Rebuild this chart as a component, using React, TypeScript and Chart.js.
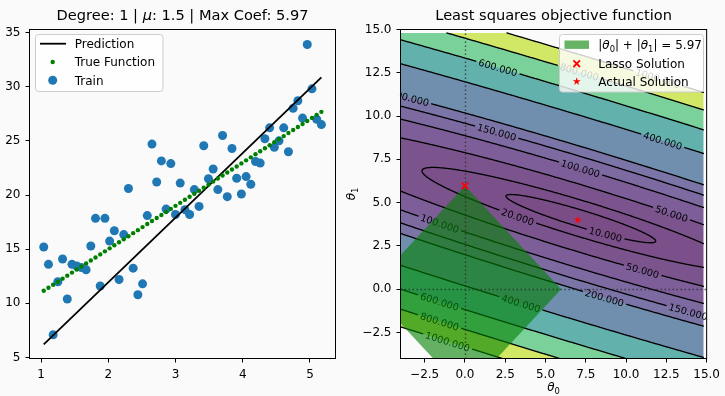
import React, { useEffect, useRef } from "react";
import { Chart, registerables } from "chart.js";

Chart.register(...registerables);

const FAMILY = '"DejaVu Sans", "Liberation Sans", sans-serif';
const PAGE_BG = "#fafafa";

// ---------------- left panel data ----------------
const sampleX = [
  1.04, 1.11, 1.18, 1.25, 1.32, 1.39, 1.46, 1.53, 1.6, 1.67,
  1.74, 1.81, 1.88, 1.95, 2.02, 2.09, 2.16, 2.23, 2.3, 2.37,
  2.44, 2.51, 2.58, 2.65, 2.72, 2.79, 2.86, 2.93, 3.0, 3.07,
  3.14, 3.21, 3.28, 3.35, 3.42, 3.49, 3.56, 3.63, 3.7, 3.77,
  3.84, 3.91, 3.98, 4.05, 4.12, 4.19, 4.26, 4.33, 4.4, 4.47,
  4.54, 4.61, 4.68, 4.75, 4.82, 4.89, 4.96, 5.03, 5.1, 5.17,
];
const trainY = [
  15.2, 13.6, 7.1, 12.0, 14.1, 10.4, 13.6, 13.45, 13.3, 13.1,
  15.3, 17.85, 11.6, 17.85, 15.75, 16.7, 12.2, 16.35, 20.6, 13.25,
  10.8, 11.8, 18.1, 24.7, 21.2, 23.15, 18.7, 22.9, 18.2, 21.1,
  18.65, 18.2, 20.5, 18.95, 24.55, 21.5, 22.4, 20.5, 25.5, 19.85,
  24.3, 21.55, 20.1, 21.7, 21.0, 23.1, 22.95, 25.2, 26.2, 24.4,
  25.0, 26.2, 24.0, 28.0, 28.7, 27.1, 33.9, 29.8, 27.0, 26.5,
];
const trueY = [
  11.16, 11.44, 11.72, 12.0, 12.28, 12.56, 12.84, 13.12, 13.4, 13.68,
  13.96, 14.24, 14.52, 14.8, 15.08, 15.36, 15.64, 15.92, 16.2, 16.48,
  16.76, 17.04, 17.32, 17.6, 17.88, 18.16, 18.44, 18.72, 19.0, 19.28,
  19.56, 19.84, 20.12, 20.4, 20.68, 20.96, 21.24, 21.52, 21.8, 22.08,
  22.36, 22.64, 22.92, 23.2, 23.48, 23.76, 24.04, 24.32, 24.6, 24.88,
  25.16, 25.44, 25.72, 26.0, 26.28, 26.56, 26.84, 27.12, 27.4, 27.68,
];
const predictionX = [1.04, 5.17];
const predictionY = [6.21, 30.86];
const leftXTicks = [1, 2, 3, 4, 5];
const leftYTicks = [5, 10, 15, 20, 25, 30, 35];
const leftXRange = [0.828, 5.38];
const leftYRange = [4.91, 35.28];
const leftLegendLabels = ["Prediction", "True Function", "Train"];

// ---------------- right panel data ----------------
const lassoSolution = [0, 5.97];
const actualSolution = [7.0, 4.0];
const constraintT0 = [5.97, 0, -5.97, 0, 5.97];
const constraintT1 = [0, 5.97, 0, -5.97, 0];
const contourLevels = [10, 20, 50, 100, 150, 200, 400, 600, 800, 1000];
const fillLevels = [0, 10, 20, 50, 100, 150, 200, 400, 600, 800, 1000];
const gridRange = [-4, 14.8];
const rightRange = [-4, 15];
const rightTicks = [-2.5, 0, 2.5, 5, 7.5, 10, 12.5, 15];
const labelLevel = [600, 800, 1000, 200, 150, 400, 100, 50, 20, 10, 100, 50, 200, 150, 400, 600, 800, 1000];
const labelT0 = [2.07, 7.11, 12.05, -3.5, 2.07, 12.26, 7.22, 12.88, 3.3, 8.76, -1.53, 11.02, 8.65, 13.9, 3.51, -1.59, -1.59, -1.08];
const labelT1 = [12.89, 12.62, 12.33, 10.88, 9.35, 8.58, 7.05, 4.46, 4.21, 3.31, 3.83, 1.11, -0.52, -1.19, -0.71, -0.71, -1.86, -3.01];
const rightLegendLabels = ["Lasso Solution", "Actual Solution"];

// ---------------- helpers ----------------
const meanOf = (arr: number[]) => arr.reduce((s, v) => s + v, 0) / arr.length;
const moments = {
  x: meanOf(sampleX),
  xx: meanOf(sampleX.map((v) => v * v)),
  y: meanOf(trainY),
  xy: meanOf(sampleX.map((v, i) => v * trainY[i])),
  yy: meanOf(trainY.map((v) => v * v)),
};
// mean squared error of the training data for coefficients (t0, t1)
function objective(t0: number, t1: number) {
  const m = moments;
  return m.yy - 2 * t0 * m.y - 2 * t1 * m.xy + t0 * t0 + 2 * t0 * t1 * m.x + t1 * t1 * m.xx;
}

const VIRIDIS = ["#440154", "#482475", "#414487", "#355f8d", "#2a788e", "#21918c", "#22a884", "#44bf70", "#7ad151", "#bddf26", "#fde725"];
const hexRgb = (h: string) => [parseInt(h.slice(1, 3), 16), parseInt(h.slice(3, 5), 16), parseInt(h.slice(5, 7), 16)];
function viridis(t: number) {
  const p = Math.max(0, Math.min(1, t)) * 10;
  const i = Math.min(9, Math.floor(p));
  const f = p - i;
  const a = hexRgb(VIRIDIS[i]);
  const b = hexRgb(VIRIDIS[i + 1]);
  return a.map((v, k) => v + (b[k] - v) * f);
}
const FILL_ALPHA = 0.7;
const lo = fillLevels[0];
const hi = fillLevels[fillLevels.length - 1];
const bandColors = fillLevels.slice(0, -1).map((l, i) => viridis(((l + fillLevels[i + 1]) / 2 - lo) / (hi - lo)));
function bandIndex(J: number) {
  if (J < lo || J >= hi) return -1;
  for (let i = 0; i < fillLevels.length - 1; i++) if (J < fillLevels[i + 1]) return i;
  return -1;
}

type Seg = { t: string; it?: boolean; sub?: boolean };
function drawRich(ctx: any, segs: Seg[], x: number, y: number, size: number, align: string, color = "#000") {
  const fontFor = (s: Seg) => `${s.it ? "italic " : ""}${s.sub ? size * 0.7 : size}px ${FAMILY}`;
  const widths = segs.map((s) => {
    ctx.font = fontFor(s);
    return ctx.measureText(s.t).width;
  });
  const total = widths.reduce((a, b) => a + b, 0);
  let cx = align === "center" ? x - total / 2 : x;
  ctx.fillStyle = color;
  ctx.textAlign = "left";
  ctx.textBaseline = "alphabetic";
  segs.forEach((s, i) => {
    ctx.font = fontFor(s);
    ctx.fillText(s.t, cx, s.sub ? y + size * 0.22 : y);
    cx += widths[i];
  });
}

function legendFrame(ctx: any, x: number, y: number, w: number, h: number) {
  ctx.beginPath();
  if (ctx.roundRect) ctx.roundRect(x, y, w, h, 3);
  else ctx.rect(x, y, w, h);
  ctx.fillStyle = "rgba(255,255,255,0.8)";
  ctx.fill();
  ctx.strokeStyle = "#cccccc";
  ctx.lineWidth = 1;
  ctx.stroke();
}

function drawStarPath(ctx: any, cx: number, cy: number, r: number) {
  ctx.beginPath();
  for (let k = 0; k < 10; k++) {
    const rr = k % 2 === 0 ? r : r * 0.382;
    const a = -Math.PI / 2 + (k * Math.PI) / 5;
    const px = cx + rr * Math.cos(a);
    const py = cy + rr * Math.sin(a);
    if (k === 0) ctx.moveTo(px, py);
    else ctx.lineTo(px, py);
  }
  ctx.closePath();
}
function makeStar(r: number, color: string) {
  const c = document.createElement("canvas");
  const s = Math.ceil(r * 2 + 2);
  c.width = s;
  c.height = s;
  const g = c.getContext("2d")!;
  drawStarPath(g, s / 2, s / 2, r);
  g.fillStyle = color;
  g.fill();
  return c;
}

const CASES: number[][] = [[], [3, 0], [0, 1], [3, 1], [1, 2], [3, 0, 1, 2], [0, 2], [3, 2], [2, 3], [0, 2], [0, 1, 2, 3], [1, 2], [1, 3], [0, 1], [3, 0], []];
function edgePt(e: number, i: number, j: number, v0: number, v1: number, v2: number, v3: number, L: number) {
  if (e === 0) return [i + (L - v0) / (v1 - v0), j];
  if (e === 1) return [i + 1, j + (L - v1) / (v2 - v1)];
  if (e === 2) return [i + (L - v3) / (v2 - v3), j + 1];
  return [i, j + (L - v0) / (v3 - v0)];
}

function buildContours(chart: any) {
  const xs = chart.scales.x;
  const ys = chart.scales.y;
  const step = 0.05;
  const g0 = gridRange[0];
  const N = Math.round((gridRange[1] - g0) / step) + 1;
  const V = new Float64Array(N * N);
  for (let j = 0; j < N; j++) for (let i = 0; i < N; i++) V[j * N + i] = objective(g0 + i * step, g0 + j * step);
  const toPx = (gi: number) => xs.getPixelForValue(g0 + gi * step);
  const toPy = (gj: number) => ys.getPixelForValue(g0 + gj * step);
  const out = new Map<number, number[]>();
  for (const L of contourLevels) {
    const segs: number[] = [];
    for (let j = 0; j < N - 1; j++) {
      for (let i = 0; i < N - 1; i++) {
        const v0 = V[j * N + i];
        const v1 = V[j * N + i + 1];
        const v2 = V[(j + 1) * N + i + 1];
        const v3 = V[(j + 1) * N + i];
        const c = (v0 > L ? 1 : 0) | (v1 > L ? 2 : 0) | (v2 > L ? 4 : 0) | (v3 > L ? 8 : 0);
        if (c === 0 || c === 15) continue;
        const e = CASES[c];
        for (let k = 0; k < e.length; k += 2) {
          const p = edgePt(e[k], i, j, v0, v1, v2, v3, L);
          const q = edgePt(e[k + 1], i, j, v0, v1, v2, v3, L);
          segs.push(toPx(p[0]), toPy(p[1]), toPx(q[0]), toPy(q[1]));
        }
      }
    }
    out.set(L, segs);
  }
  return out;
}

const LABEL_SIZE = 9.7;

const contourPlugin = {
  id: "contourPlugin",
  beforeDatasetsDraw(chart: any) {
    const { ctx, chartArea: a } = chart;
    const xs = chart.scales.x;
    const ys = chart.scales.y;
    // ---- filled bands ----
    const x0 = Math.ceil(a.left);
    const x1 = Math.floor(a.right);
    const y0 = Math.ceil(a.top);
    const y1 = Math.floor(a.bottom);
    const w = x1 - x0;
    const h = y1 - y0;
    const off = document.createElement("canvas");
    off.width = w;
    off.height = h;
    const octx = off.getContext("2d")!;
    const img = octx.createImageData(w, h);
    const sub = [0.25, 0.75];
    for (let py = 0; py < h; py++) {
      for (let px = 0; px < w; px++) {
        let r = 0, g = 0, b = 0, n = 0;
        for (const sy of sub) {
          const t1 = ys.getValueForPixel(y0 + py + sy);
          for (const sx of sub) {
            const t0 = xs.getValueForPixel(x0 + px + sx);
            if (t0 < gridRange[0] || t0 > gridRange[1] || t1 < gridRange[0] || t1 > gridRange[1]) continue;
            const bi = bandIndex(objective(t0, t1));
            if (bi < 0) continue;
            const c = bandColors[bi];
            r += c[0]; g += c[1]; b += c[2]; n++;
          }
        }
        if (n > 0) {
          const idx = (py * w + px) * 4;
          img.data[idx] = r / n;
          img.data[idx + 1] = g / n;
          img.data[idx + 2] = b / n;
          img.data[idx + 3] = Math.round(255 * FILL_ALPHA * (n / 4));
        }
      }
    }
    octx.putImageData(img, 0, 0);
    ctx.save();
    ctx.drawImage(off, x0, y0);

    // ---- contour lines + labels ----
    const lines = buildContours(chart);
    ctx.font = `${LABEL_SIZE}px ${FAMILY}`;
    const labels: any[] = [];
    labelLevel.forEach((L, k) => {
      const segs = lines.get(L) || [];
      const ax = xs.getPixelForValue(labelT0[k]);
      const ay = ys.getPixelForValue(labelT1[k]);
      let best = -1, bestD = Infinity;
      for (let s = 0; s < segs.length; s += 4) {
        const mx = (segs[s] + segs[s + 2]) / 2;
        const my = (segs[s + 1] + segs[s + 3]) / 2;
        const d = (mx - ax) ** 2 + (my - ay) ** 2;
        if (d < bestD) { bestD = d; best = s; }
      }
      if (best < 0) return;
      const px = (segs[best] + segs[best + 2]) / 2;
      const py = (segs[best + 1] + segs[best + 3]) / 2;
      const rx = segs[best + 2] - segs[best];
      const ry = segs[best + 3] - segs[best + 1];
      let sx = 0, sy = 0;
      for (let s = 0; s < segs.length; s += 4) {
        const mx = (segs[s] + segs[s + 2]) / 2;
        const my = (segs[s + 1] + segs[s + 3]) / 2;
        if ((mx - px) ** 2 + (my - py) ** 2 > 100) continue;
        let dx = segs[s + 2] - segs[s];
        let dy = segs[s + 3] - segs[s + 1];
        if (dx * rx + dy * ry < 0) { dx = -dx; dy = -dy; }
        sx += dx; sy += dy;
      }
      let ang = Math.atan2(sy, sx);
      if (ang > Math.PI / 2) ang -= Math.PI;
      if (ang < -Math.PI / 2) ang += Math.PI;
      const text = L.toFixed(3);
      const tw = ctx.measureText(text).width;
      labels.push({ px, py, ang, text, tw });
    });

    ctx.beginPath();
    ctx.rect(a.left, a.top, a.right - a.left, a.bottom - a.top);
    labels.forEach((lb) => {
      const hw = lb.tw / 2 + 2.5;
      const hh = LABEL_SIZE * 0.6;
      const c = Math.cos(lb.ang), s = Math.sin(lb.ang);
      const pts = [[-hw, -hh], [hw, -hh], [hw, hh], [-hw, hh]].map(([u, v]) => [lb.px + u * c - v * s, lb.py + u * s + v * c]);
      ctx.moveTo(pts[0][0], pts[0][1]);
      for (let i = 1; i < 4; i++) ctx.lineTo(pts[i][0], pts[i][1]);
      ctx.closePath();
    });
    ctx.clip("evenodd");
    ctx.strokeStyle = "#000";
    ctx.lineWidth = 1.3;
    ctx.lineCap = "round";
    ctx.beginPath();
    lines.forEach((segs) => {
      for (let s = 0; s < segs.length; s += 4) {
        ctx.moveTo(segs[s], segs[s + 1]);
        ctx.lineTo(segs[s + 2], segs[s + 3]);
      }
    });
    ctx.stroke();
    ctx.restore();

    ctx.save();
    ctx.beginPath();
    ctx.rect(a.left, a.top, a.right - a.left, a.bottom - a.top);
    ctx.clip();
    ctx.fillStyle = "#000";
    ctx.font = `${LABEL_SIZE}px ${FAMILY}`;
    ctx.textAlign = "center";
    ctx.textBaseline = "alphabetic";
    labels.forEach((lb) => {
      ctx.save();
      ctx.translate(lb.px, lb.py);
      ctx.rotate(lb.ang);
      ctx.fillText(lb.text, 0, LABEL_SIZE * 0.36);
      ctx.restore();
    });
    ctx.restore();
  },
  afterDatasetDraw(chart: any, args: any) {
    if (args.index !== 2) return;
    const { ctx, chartArea: a } = chart;
    const xs = chart.scales.x;
    const ys = chart.scales.y;
    ctx.save();
    ctx.beginPath();
    ctx.rect(a.left, a.top, a.right - a.left, a.bottom - a.top);
    ctx.clip();
    ctx.strokeStyle = "rgba(40,40,40,0.75)";
    ctx.lineWidth = 1.4;
    ctx.setLineDash([1.4, 2.6]);
    const vx = Math.round(xs.getPixelForValue(0)) + 0.5;
    const hy = Math.round(ys.getPixelForValue(0)) + 0.5;
    ctx.beginPath();
    ctx.moveTo(vx, a.top);
    ctx.lineTo(vx, a.bottom);
    ctx.moveTo(a.left, hy);
    ctx.lineTo(a.right, hy);
    ctx.stroke();
    ctx.restore();
  },
};

const LEFT_OFFSET = 0;
const RIGHT_OFFSET = 340;
const TITLE_SIZE = 14.6;

const leftDecor = {
  id: "leftDecor",
  afterDraw(chart: any) {
    const { ctx, chartArea: a } = chart;
    ctx.save();
    ctx.translate(-LEFT_OFFSET, 0);
    ctx.strokeStyle = "#000";
    ctx.lineWidth = 1;
    ctx.strokeRect(a.left, a.top, a.right - a.left, a.bottom - a.top);
    drawRich(ctx, [{ t: "Degree: 1 | " }, { t: "μ", it: true }, { t: ": 1.5 | Max Coef: 5.97" }], (a.left + a.right) / 2, 19.5, TITLE_SIZE, "center");
    legendFrame(ctx, 35.5, 34.5, 127.5, 57);
    ctx.strokeStyle = "#000";
    ctx.lineWidth = 1.8;
    ctx.beginPath();
    ctx.moveTo(40, 43.7);
    ctx.lineTo(66, 43.7);
    ctx.stroke();
    ctx.fillStyle = "#008000";
    ctx.beginPath();
    ctx.arc(52.7, 62, 2.2, 0, Math.PI * 2);
    ctx.fill();
    ctx.fillStyle = "#1f77b4";
    ctx.beginPath();
    ctx.arc(52.7, 80.3, 4.5, 0, Math.PI * 2);
    ctx.fill();
    const rows = [43.7, 62, 80.3];
    leftLegendLabels.forEach((t, i) => drawRich(ctx, [{ t }], 74.7, rows[i] + 4.3, 12, "left"));
    ctx.restore();
  },
};

const rightDecor = {
  id: "rightDecor",
  afterDraw(chart: any) {
    const { ctx, chartArea: a } = chart;
    ctx.save();
    ctx.strokeStyle = "#000";
    ctx.lineWidth = 1;
    ctx.strokeRect(a.left, a.top, a.right - a.left, a.bottom - a.top);
    drawRich(ctx, [{ t: "Least squares objective function" }], (a.left + a.right) / 2, 20, TITLE_SIZE, "center");
    drawRich(ctx, [{ t: "θ", it: true }, { t: "0", sub: true }], (a.left + a.right) / 2, 391, 12, "center");
    ctx.save();
    ctx.translate(355 - RIGHT_OFFSET, (a.top + a.bottom) / 2);
    ctx.rotate(-Math.PI / 2);
    drawRich(ctx, [{ t: "θ", it: true }, { t: "1", sub: true }], 0, 0, 12, "center");
    ctx.restore();

    ctx.translate(-RIGHT_OFFSET, 0);
    legendFrame(ctx, 559.5, 34.5, 144, 57.5);
    ctx.fillStyle = "rgba(0,128,0,0.6)";
    ctx.fillRect(564.5, 40.5, 24.5, 8.4);
    drawRich(
      ctx,
      [
        { t: "|" }, { t: "θ", it: true }, { t: "0", sub: true }, { t: "| + |" },
        { t: "θ", it: true }, { t: "1", sub: true }, { t: "| = 5.97" },
      ],
      598.3, 49.2, 12, "left"
    );
    ctx.strokeStyle = "red";
    ctx.lineWidth = 1.8;
    ctx.beginPath();
    ctx.moveTo(576.7 - 3.3, 63.7 - 3.3);
    ctx.lineTo(576.7 + 3.3, 63.7 + 3.3);
    ctx.moveTo(576.7 - 3.3, 63.7 + 3.3);
    ctx.lineTo(576.7 + 3.3, 63.7 - 3.3);
    ctx.stroke();
    drawStarPath(ctx, 576.7, 81.5, 4.2);
    ctx.fillStyle = "red";
    ctx.fill();
    drawRich(ctx, [{ t: rightLegendLabels[0] }], 598.3, 67.9, 12, "left");
    drawRich(ctx, [{ t: rightLegendLabels[1] }], 598.3, 85.6, 12, "left");
    ctx.restore();
  },
};

const tickFont = { family: FAMILY, size: 12 };
const fmtRight = (v: number) => (v < 0 ? "\u2212" : "") + Math.abs(v).toFixed(1);

function axisOpts(range: number[], ticks: number[], fmt: (v: number) => string, fit: (ax: any) => void) {
  return {
    type: "linear",
    min: range[0],
    max: range[1],
    afterBuildTicks: (ax: any) => {
      ax.ticks = ticks.map((v) => ({ value: v }));
    },
    afterFit: fit,
    ticks: {
      font: tickFont,
      color: "#000",
      padding: 5,
      autoSkip: false,
      maxRotation: 0,
      minRotation: 0,
      callback: (v: any) => fmt(Number(v)),
    },
    grid: { display: true, drawOnChartArea: false, drawTicks: true, tickLength: 4, tickColor: "#000", tickWidth: 1 },
    border: { display: false },
  };
}

export default function App() {
  const leftRef = useRef<HTMLCanvasElement>(null);
  const rightRef = useRef<HTMLCanvasElement>(null);

  useEffect(() => {
    document.body.style.margin = "0";
    document.body.style.background = PAGE_BG;

    const left = new Chart(leftRef.current as any, {
      type: "scatter",
      data: {
        datasets: [
          {
            label: leftLegendLabels[1],
            data: sampleX.map((x, i) => ({ x, y: trueY[i] })),
            pointRadius: 2.2,
            pointBackgroundColor: "#008000",
            pointBorderWidth: 0,
            order: 0,
          },
          {
            label: leftLegendLabels[0],
            data: predictionX.map((x, i) => ({ x, y: predictionY[i] })),
            showLine: true,
            borderColor: "#000",
            borderWidth: 1.8,
            pointRadius: 0,
            order: 1,
          },
          {
            label: leftLegendLabels[2],
            data: sampleX.map((x, i) => ({ x, y: trainY[i] })),
            pointRadius: 4.5,
            pointBackgroundColor: "#1f77b4",
            pointBorderWidth: 0,
            order: 2,
          },
        ],
      } as any,
      options: {
        animation: false,
        responsive: false,
        maintainAspectRatio: false,
        devicePixelRatio: 1,
        events: [],
        layout: { padding: { left: 0, top: 29.5, right: 1.5, bottom: 0 } },
        plugins: { legend: { display: false }, tooltip: { enabled: false }, title: { display: false } },
        scales: {
          x: axisOpts(leftXRange, leftXTicks, (v) => String(v), (ax: any) => { ax.height = 37.5; }),
          y: axisOpts(leftYRange, leftYTicks, (v) => String(v), (ax: any) => { ax.width = 29.5; }),
        } as any,
      },
      plugins: [leftDecor],
    });

    const star = makeStar(4.2, "red");
    const right = new Chart(rightRef.current as any, {
      type: "scatter",
      data: {
        datasets: [
          {
            label: rightLegendLabels[0],
            data: [{ x: lassoSolution[0], y: lassoSolution[1] }],
            pointStyle: "crossRot",
            pointRadius: 4.7,
            pointBorderColor: "red",
            pointBackgroundColor: "red",
            pointBorderWidth: 1.8,
            order: 0,
          },
          {
            label: rightLegendLabels[1],
            data: [{ x: actualSolution[0], y: actualSolution[1] }],
            pointStyle: star,
            pointRadius: 4.2,
            order: 1,
          },
          {
            label: "constraint",
            data: constraintT0.map((x, i) => ({ x, y: constraintT1[i] })),
            showLine: true,
            fill: "shape",
            backgroundColor: "rgba(0,128,0,0.6)",
            borderColor: "rgba(0,0,0,0)",
            borderWidth: 0,
            pointRadius: 0,
            tension: 0,
            order: 2,
          },
        ],
      } as any,
      options: {
        animation: false,
        responsive: false,
        maintainAspectRatio: false,
        devicePixelRatio: 1,
        events: [],
        layout: { padding: { left: 0, top: 29.5, right: 16.5, bottom: 0 } },
        plugins: { legend: { display: false }, tooltip: { enabled: false }, title: { display: false } },
        scales: {
          x: axisOpts(rightRange, rightTicks, fmtRight, (ax: any) => { ax.height = 37.5; }),
          y: axisOpts(rightRange, rightTicks, fmtRight, (ax: any) => { ax.width = 60.5; }),
        } as any,
      },
      plugins: [contourPlugin, rightDecor],
    });

    return () => {
      left.destroy();
      right.destroy();
    };
  }, []);

  return (
    <div style={{ position: "relative", width: 725, height: 396, background: PAGE_BG, overflow: "hidden" }}>
      <canvas ref={leftRef} width={340} height={396} style={{ position: "absolute", left: 0, top: 0, width: 340, height: 396 }} />
      <canvas ref={rightRef} width={385} height={396} style={{ position: "absolute", left: RIGHT_OFFSET, top: 0, width: 385, height: 396 }} />
    </div>
  );
}
